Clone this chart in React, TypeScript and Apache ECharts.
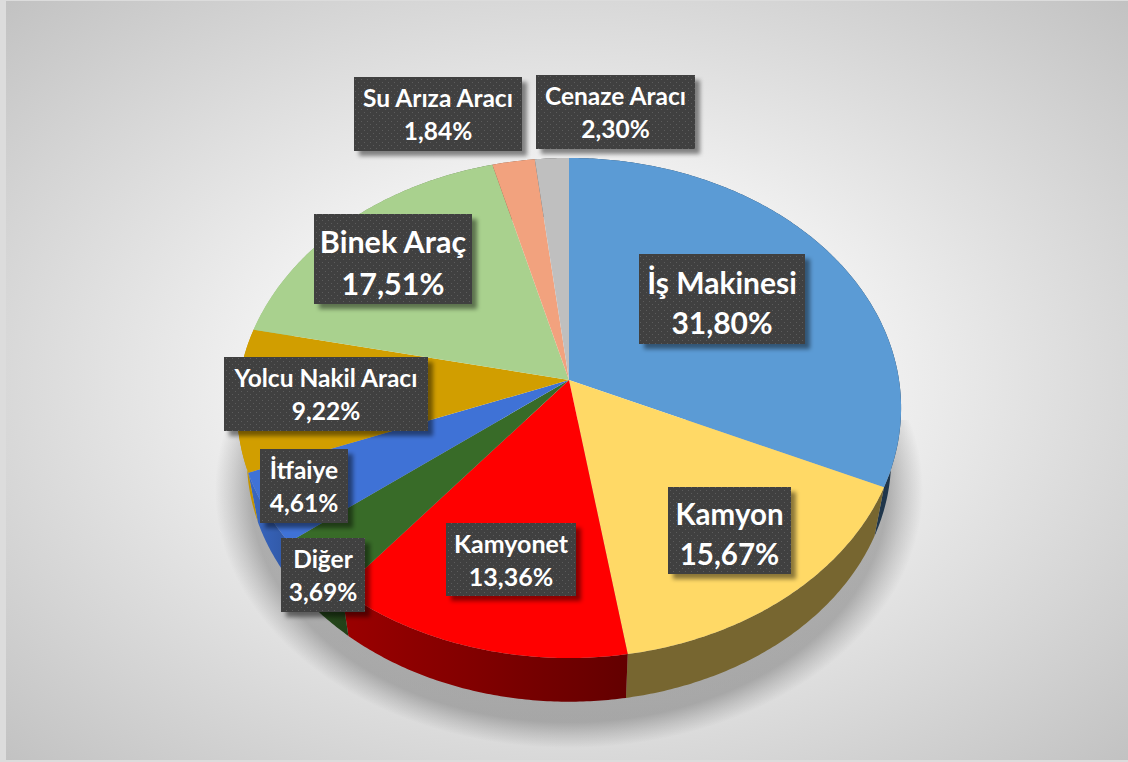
import React, { useEffect, useRef } from "react";
import * as echarts from "echarts";

const categories = ["İş Makinesi", "Kamyon", "Kamyonet", "Diğer", "İtfaiye", "Yolcu Nakil Aracı", "Binek Araç", "Cenaze Aracı", "Su Arıza Aracı"];
const values = [31.8, 15.67, 13.36, 3.69, 4.61, 9.22, 17.51, 2.3, 1.84];
const valueLabels = ["31,80%", "15,67%", "13,36%", "3,69%", "4,61%", "9,22%", "17,51%", "2,30%", "1,84%"];
const colors = ["#5B9BD5", "#FFD966", "#FF0000", "#386B28", "#3F72D6", "#D19E00", "#A9D18E", "#F2A27E", "#BFBFBF"];
const sideGains = [0.9, 1.2, 1, 1, 1, 1, 1, 1, 1];
// label box [left, top, right, bottom, font size] for each category
const labelBoxes = [
  [639, 254, 805, 344, 30],
  [668, 487, 791, 574, 29.5],
  [446, 523, 576, 596, 25],
  [281, 538, 365, 612, 24.5],
  [260, 449, 348, 523, 24.5],
  [224, 357, 428, 431, 24.5],
  [314, 214, 472, 304, 30.5],
  [536, 75, 695, 149, 24.5],
  [354, 77, 522, 151, 24.5],
];

const CX = 569, CY = 380, A = 246.9, B = 330, K = 0.112, DEPTH = 52, BOTTOM_SCALE = 0.97;

function project(theta: number, scale: number, drop: number) {
  const X = Math.sin(theta), Y = -Math.cos(theta), den = 1 - K * Y;
  return [CX + (B * X * scale) / den, CY + drop + (A * Y * scale) / den];
}
function arc(a0: number, a1: number, scale: number, drop: number) {
  const pts: number[][] = [];
  const n = Math.max(2, Math.ceil((a1 - a0) / 0.01));
  for (let i = 0; i <= n; i++) pts.push(project(a0 + ((a1 - a0) * i) / n, scale, drop));
  return pts;
}
function shade(hex: string, f: number) {
  const n = parseInt(hex.slice(1), 16);
  const c = [(n >> 16) & 255, (n >> 8) & 255, n & 255].map((v) => Math.round(Math.min(255, v * f)));
  return `rgb(${c[0]},${c[1]},${c[2]})`;
}
function sideFactor(X: number) {
  if (X > 0.1) return 0.39;
  if (X > -0.7) return 0.39 + 0.3 * (0.1 - X);
  return 0.63 + 1.2 * (-0.7 - X);
}
const angles = (i: number) => {
  const total = values.reduce((s, v) => s + v, 0);
  const before = values.slice(0, i).reduce((s, v) => s + v, 0);
  return [(before / total) * 2 * Math.PI, ((before + values[i]) / total) * 2 * Math.PI];
};

function dotTile() {
  const c = document.createElement("canvas");
  c.width = 6; c.height = 6;
  const g = c.getContext("2d")!;
  g.fillStyle = "#404040"; g.fillRect(0, 0, 6, 6);
  g.fillStyle = "#5c5c5c"; g.fillRect(1, 1, 1, 1); g.fillRect(4, 4, 1, 1);
  return c;
}

export default function App() {
  const ref = useRef<HTMLDivElement>(null);
  useEffect(() => {
    document.body.style.margin = "0";
    const chart = echarts.init(ref.current!, null, { renderer: "svg" });
    const tile = dotTile();
    const rows = categories.map((name, i) => ({ name, value: values[i] }));
    chart.setOption({
      animation: false,
      backgroundColor: "transparent",
      series: [
        {
          type: "custom", coordinateSystem: "none", silent: true, z: 1, data: [{ name: "shadow", value: 1 }],
          renderItem: () => ({
            type: "group",
            clipPath: { type: "rect", shape: { x: 0, y: 420, width: 1128, height: 342 } },
            children: [{
              type: "ellipse",
              shape: { cx: CX, cy: 490, rx: 354, ry: 258 },
              style: {
                fill: {
                  type: "radial", x: 0.5, y: 0.5, r: 0.5,
                  colorStops: [
                    { offset: 0, color: "rgba(90,90,90,0.42)" },
                    { offset: 0.9, color: "rgba(90,90,90,0.42)" },
                    { offset: 0.95, color: "rgba(90,90,90,0.2)" },
                    { offset: 1, color: "rgba(90,90,90,0)" },
                  ],
                },
              },
            }],
          }),
        },
        {
          type: "custom", coordinateSystem: "none", silent: true, z: 2, data: rows,
          renderItem: (p: any) => {
            const i = p.dataIndex;
            const [a0, a1] = angles(i);
            const top = arc(a0, a1, 1, 0);
            const bot = arc(a0, a1, BOTTOM_SCALE, DEPTH).reverse();
            const xs = [Math.sin(a0), Math.sin(a1)];
            return {
              type: "polygon",
              shape: { points: top.concat(bot) },
              style: {
                fill: {
                  type: "linear", x: 0, y: 0, x2: 1, y2: 0,
                  colorStops: [
                    { offset: 0, color: shade(colors[i], sideFactor(Math.min(...xs)) * sideGains[i]) },
                    { offset: 1, color: shade(colors[i], sideFactor(Math.max(...xs)) * sideGains[i]) },
                  ],
                },
              },
            };
          },
        },
        {
          type: "custom", coordinateSystem: "none", silent: true, z: 3, data: rows,
          renderItem: (p: any) => {
            const i = p.dataIndex;
            const [a0, a1] = angles(i);
            return {
              type: "polygon",
              shape: { points: [[CX, CY]].concat(arc(a0, a1, 1, 0)) },
              style: { fill: colors[i] },
            };
          },
        },
        {
          type: "custom", coordinateSystem: "none", silent: true, z: 4, data: rows,
          renderItem: (p: any) => {
            const i = p.dataIndex;
            const [l, t, r, b, fs] = labelBoxes[i];
            const mid = (l + r) / 2, line = fs * 1.35;
            const nudge = fs > 28 ? 3 : 0;
            const textStyle = { fill: "#ffffff", fontFamily: "Lato", fontWeight: 700, fontSize: fs, align: "center", verticalAlign: "middle" };
            return {
              type: "group",
              children: [
                {
                  type: "rect", shape: { x: l, y: t, width: r - l, height: b - t },
                  style: { fill: { image: tile, repeat: "repeat" }, shadowColor: "rgba(0,0,0,0.45)", shadowBlur: 4, shadowOffsetX: 5, shadowOffsetY: 5 },
                },
                { type: "text", x: mid, y: (t + b) / 2 + nudge - line / 2, style: { ...textStyle, text: categories[i] } },
                { type: "text", x: mid, y: (t + b) / 2 + nudge + line / 2, style: { ...textStyle, text: valueLabels[i] } },
              ],
            };
          },
        },
      ],
    });
    return () => chart.dispose();
  }, []);
  return (
    <div style={{ position: "absolute", left: 0, top: 0, width: 1128, height: 762, overflow: "hidden", background: "#dcdcdc" }}>
      <div style={{ position: "absolute", left: 6, top: 1, width: 1122, height: 759, background: "radial-gradient(ellipse farthest-corner at 50% 50%, #ffffff 0%, #fbfbfb 25%, #c2c2c2 100%)" }} />
      <div ref={ref} style={{ position: "absolute", left: 0, top: 0, width: 1128, height: 762 }} />
    </div>
  );
}
